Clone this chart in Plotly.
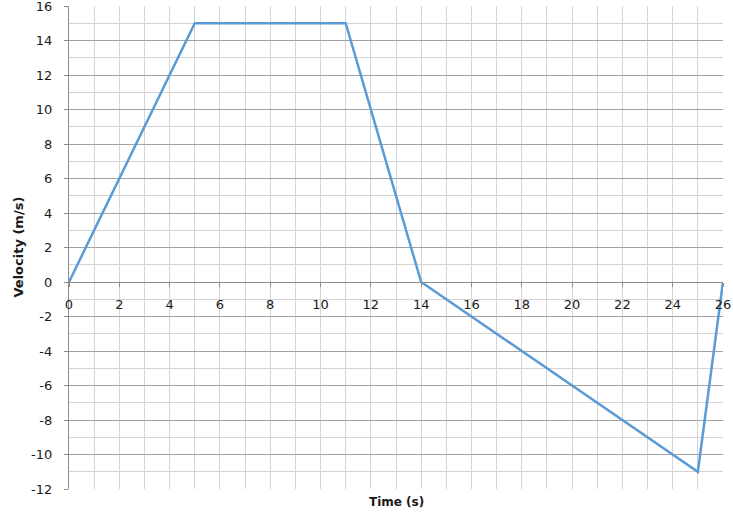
import plotly.graph_objects as go

time_s = [0, 5, 11, 14, 25, 26]
velocity = [0, 15, 15, 0, -11, 0]
x_tick_vals = list(range(0, 27, 2))
y_tick_vals = list(range(-12, 17, 2))

FONT = "DejaVu Sans"
MAJOR = "#a3a3a3"
MINOR = "#d4d4d4"
AXIS = "#8c8c8c"
TXT = "#1a1a1a"

fig = go.Figure()
fig.add_trace(go.Scatter(x=time_s, y=velocity, mode="lines",
                         line=dict(color="#5b9bd5", width=2.5),
                         showlegend=False, hoverinfo="skip"))

y0_frac = (0 - (-12)) / (16 - (-12))

fig.update_layout(
    width=733, height=519,
    margin=dict(l=69, r=10, t=6, b=30, autoexpand=False),
    paper_bgcolor="white", plot_bgcolor="white",
    font=dict(family=FONT, size=13, color=TXT),
    xaxis=dict(range=[0, 26], tickvals=x_tick_vals, ticktext=[str(v) for v in x_tick_vals],
               showgrid=True, gridcolor=MINOR, gridwidth=1,
               minor=dict(dtick=1, tick0=0, showgrid=True, gridcolor=MINOR, gridwidth=1),
               anchor="free", position=y0_frac, automargin=False,
               showline=True, linecolor=AXIS, linewidth=1.3,
               ticks="outside", ticklen=4, tickcolor=AXIS,
               ticklabelstandoff=6, ticklabeloverflow="allow", zeroline=False,
               tickfont=dict(family=FONT, size=13, color=TXT)),
    yaxis=dict(range=[-12, 16], tickvals=y_tick_vals, ticktext=[str(v) for v in y_tick_vals],
               showgrid=True, gridcolor=MAJOR, gridwidth=1,
               minor=dict(dtick=1, tick0=0, showgrid=True, gridcolor=MINOR, gridwidth=1),
               showline=True, linecolor=AXIS, linewidth=1.3, automargin=False,
               ticks="outside", ticklen=4, tickcolor=AXIS,
               ticklabelstandoff=9, ticklabeloverflow="allow", zeroline=False,
               tickfont=dict(family=FONT, size=13, color=TXT)),
    annotations=[
        dict(text="<b>Time (s)</b>", x=0.5, y=-0.0, xref="paper", yref="paper",
             xanchor="center", yanchor="top", yshift=-4, showarrow=False,
             font=dict(family=FONT, size=12, color=TXT)),
        dict(text="<b>Velocity (m/s)</b>", x=0, y=0.5, xref="paper", yref="paper",
             xanchor="center", yanchor="middle", xshift=-51, textangle=-90, showarrow=False,
             font=dict(family=FONT, size=13, color=TXT)),
    ],
)

fig.write_html("out.html", config={"displayModeBar": False},
               post_script="document.body.style.margin='0px';document.body.style.padding='0px';")
